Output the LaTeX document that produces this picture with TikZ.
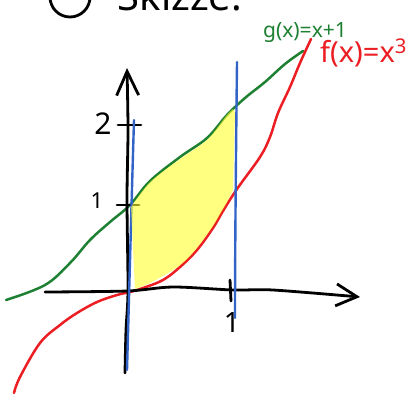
\documentclass[tikz,border=0pt]{standalone}
\usepackage{fontspec}
\setmainfont{Noto Sans}
\usetikzlibrary{arrows.meta}
\definecolor{gline}{RGB}{30,128,50}
\definecolor{rline}{RGB}{235,30,35}
\definecolor{bline}{RGB}{50,100,200}
\definecolor{hl}{RGB}{255,255,43}
\begin{document}
\begin{tikzpicture}[x=1pt,y=-1pt,
  axisline/.style={line width=2.8pt, line cap=round, line join=round, black},
  tickline/.style={line width=2.8pt, line cap=round, black},
  gcurve/.style={gline, line width=2.5pt, line cap=round, line join=round},
  rcurve/.style={rline, line width=2.5pt, line cap=round, line join=round},
  bcurve/.style={bline, line width=2.4pt, line cap=round},
  hlfill/.style={fill=hl, fill opacity=0.6, draw=none},
  hand/.style={inner sep=0pt, black},
  barb/.style={-{Straight Barb[length=#1, width=22pt, line width=2.8pt]}},
]
\useasboundingbox (0,0) rectangle (417,396);

% heading, cut off at the top
\draw[line width=2.8pt] (70,-3) circle (20pt);
\node[hand, anchor=base, font=\fontsize{40}{40}\selectfont] (head) at (180,11) {Skizze:};

% axes
\coordinate (xs) at (45,292);
\coordinate (xe) at (360,297);
\coordinate (ys) at (125,373);
\coordinate (ye) at (127,68);

% curves
\draw[gcurve] plot[smooth, tension=0.6] coordinates {(6,300) (45,285) (70,263) (90,240) (110,222) (130,205) (150,181) (180,157) (207,138) (227,115) (245,98) (265,82) (285,64) (303,51)};
\draw[rcurve] plot[smooth, tension=0.6] coordinates {(14,393) (20,377) (40,343) (60,325) (77,313) (97,302) (117,295) (130,292) (143,288) (163,280) (180,267) (197,250) (213,228) (223,211) (237,189) (260,157) (270,137) (278,113) (290,87) (300,63) (311,39)};

\draw[axisline, barb=21pt] plot[smooth, tension=0.5] coordinates {(xs) (127,291) (173,287) (233,290) (273,290) (xe)};
\draw[axisline, barb=24pt] plot[smooth, tension=0.5] coordinates {(ys) (126,330) (128,290) (127,200) (128,130) (ye)};

% ticks
\draw[tickline] (230,280) -- (231,301);
\draw[tickline] (118,125) -- (141,125);
\draw[tickline] (117,205) -- (139,205);

% tick labels
\node[hand, font=\fontsize{30}{30}\selectfont] (l2) at (103,124) {2};
\node[hand, font=\fontsize{22}{22}\selectfont] (l1y) at (97,201) {1};
\node[hand, font=\fontsize{28}{28}\selectfont] (l1x) at (232,322) {1};

% verticals x=0 and x=1
\draw[bcurve] (134,120) .. controls (131,220) and (129,300) .. (127,370);
\draw[bcurve] (237,62) .. controls (236,150) and (235,250) .. (235,318);

% highlighted area
\fill[hlfill] plot[smooth, tension=0.5] coordinates {(131,207) (150,182) (180,159) (207,140) (226,116) (233,109)}
  -- (235,112) -- (234,150) -- (233,190)
  -- plot[smooth, tension=0.5] coordinates {(226,204) (213,226) (197,248) (184,262) (170,272) (150,283) (135,289)}
  -- cycle;

% function labels
\node[gline, inner sep=0pt, font=\fontsize{21}{21}\selectfont] (glab) at (305,33) {g(x)=x+1};
\node[rline, inner sep=0pt, anchor=west, font=\fontsize{29}{29}\selectfont] (flab) at (320,53) {f(x)=x\textsuperscript{3}};
\end{tikzpicture}
\end{document}
